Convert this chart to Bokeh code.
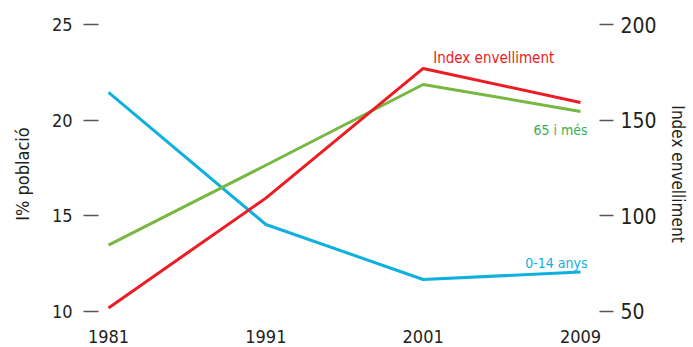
from bokeh.plotting import figure
from bokeh.models import Range1d, LinearAxis, FixedTicker, Label
from bokeh.core.properties import value
from bokeh.embed import file_html
from bokeh.resources import INLINE

# ---- data ----
years = ["1981", "1991", "2001", "2009"]
x_idx = [0, 1, 2, 3]
pct_0_14 = [21.45, 14.53, 11.65, 12.04]      # % població 0-14 anys (left axis)
pct_65 = [13.45, 17.63, 21.86, 20.45]        # % població 65 i més (left axis)
index_env = [51.6, 109.1, 177.0, 159.2]      # Index envelliment (right axis)
left_ticks = [10, 15, 20, 25]
right_ticks = [50, 100, 150, 200]

# ---- styles ----
BLUE = "#0DB0DE"
GREEN = "#77B843"
GREEN_TXT = "#3AB04E"
RED = "#ED1C24"
NARROW = "DejaVu Sans Condensed"
TXT = "#231F20"

W, H = 693, 347
ML, MR = 83, 88
# vertical mapping: 25 -> 24px from top, 10 -> 310.5px from top (frame = whole height)
px_per_unit = (310.5 - 24) / 15.0
y_hi = 25 + 24 / px_per_unit
y_lo = 25 - (H - 24) / px_per_unit
r_lo, r_hi = 10 * y_lo - 50, 10 * y_hi - 50
# horizontal mapping: category 0 at 25px inside frame, 3 at 25px before right edge
fw = W - ML - MR
sx = (fw - 25 - 25) / 3.0
x_lo = -25 / sx
x_hi = 3 + 25 / sx

p = figure(width=W, height=H, output_backend="svg", toolbar_location=None,
           title=None, x_range=Range1d(x_lo, x_hi), y_range=Range1d(y_lo, y_hi),
           x_axis_location=None, y_axis_location="left",
           min_border_left=ML, min_border_right=MR, min_border_top=0, min_border_bottom=0)
p.grid.visible = False
p.outline_line_color = None
p.background_fill_color = "white"
p.border_fill_color = "white"

def style_axis(ax, size, standoff, tick_in, tick_out, label, label_size, label_standoff):
    ax.axis_line_color = None
    ax.minor_tick_line_color = None
    ax.major_tick_in = tick_in
    ax.major_tick_out = tick_out
    ax.major_tick_line_color = "#555555"
    ax.major_tick_line_width = 1.3
    ax.major_label_text_font = NARROW
    ax.major_label_text_font_size = size
    ax.major_label_text_color = TXT
    ax.major_label_standoff = standoff
    ax.axis_label = label
    ax.axis_label_text_font = NARROW
    ax.axis_label_text_font_size = label_size
    ax.axis_label_text_font_style = "normal"
    ax.axis_label_text_color = TXT
    ax.axis_label_standoff = label_standoff

ly = p.yaxis[0]
ly.ticker = FixedTicker(ticks=left_ticks)
style_axis(ly, "18px", 11, 15, 0, "I% població", "18px", 16)

p.extra_y_ranges = {"right": Range1d(r_lo, r_hi)}
ry = LinearAxis(y_range_name="right", ticker=FixedTicker(ticks=right_ticks))
style_axis(ry, "21px", 7, 6, 8, "Index envelliment", "17px", 8)
p.add_layout(ry, "right")

# lines
p.line(x_idx, pct_0_14, line_color=BLUE, line_width=3)
p.line(x_idx, pct_65, line_color=GREEN, line_width=3)
p.line(x_idx, index_env, line_color=RED, line_width=3, y_range_name="right")

# year labels (category axis) as annotations along the bottom edge
for xi, yr in zip(x_idx, years):
    p.add_layout(Label(x=xi, y=y_lo, text=yr, y_offset=5,
                       text_font=NARROW, text_font_size="18px", text_color=TXT,
                       text_align="center", text_baseline="bottom"))

# series labels
p.text(x=[x_idx[2]], y=[index_env[2]], text=["Index envelliment"], y_range_name="right",
       text_font=value(NARROW), text_font_size="15px", text_color=RED,
       text_align="left", text_baseline="alphabetic", x_offset=10, y_offset=-10)
p.text(x=[x_idx[3]], y=[pct_65[3]], text=["65 i més"],
       text_font=value(NARROW), text_font_size="14px", text_color=GREEN_TXT,
       text_align="right", text_baseline="alphabetic", x_offset=7, y_offset=19)
p.text(x=[x_idx[3]], y=[pct_0_14[3]], text=["0-14 anys"],
       text_font=value(NARROW), text_font_size="14px", text_color=BLUE,
       text_align="right", text_baseline="alphabetic", x_offset=7, y_offset=-9)

open("out.html", "w").write(file_html(p, INLINE))
